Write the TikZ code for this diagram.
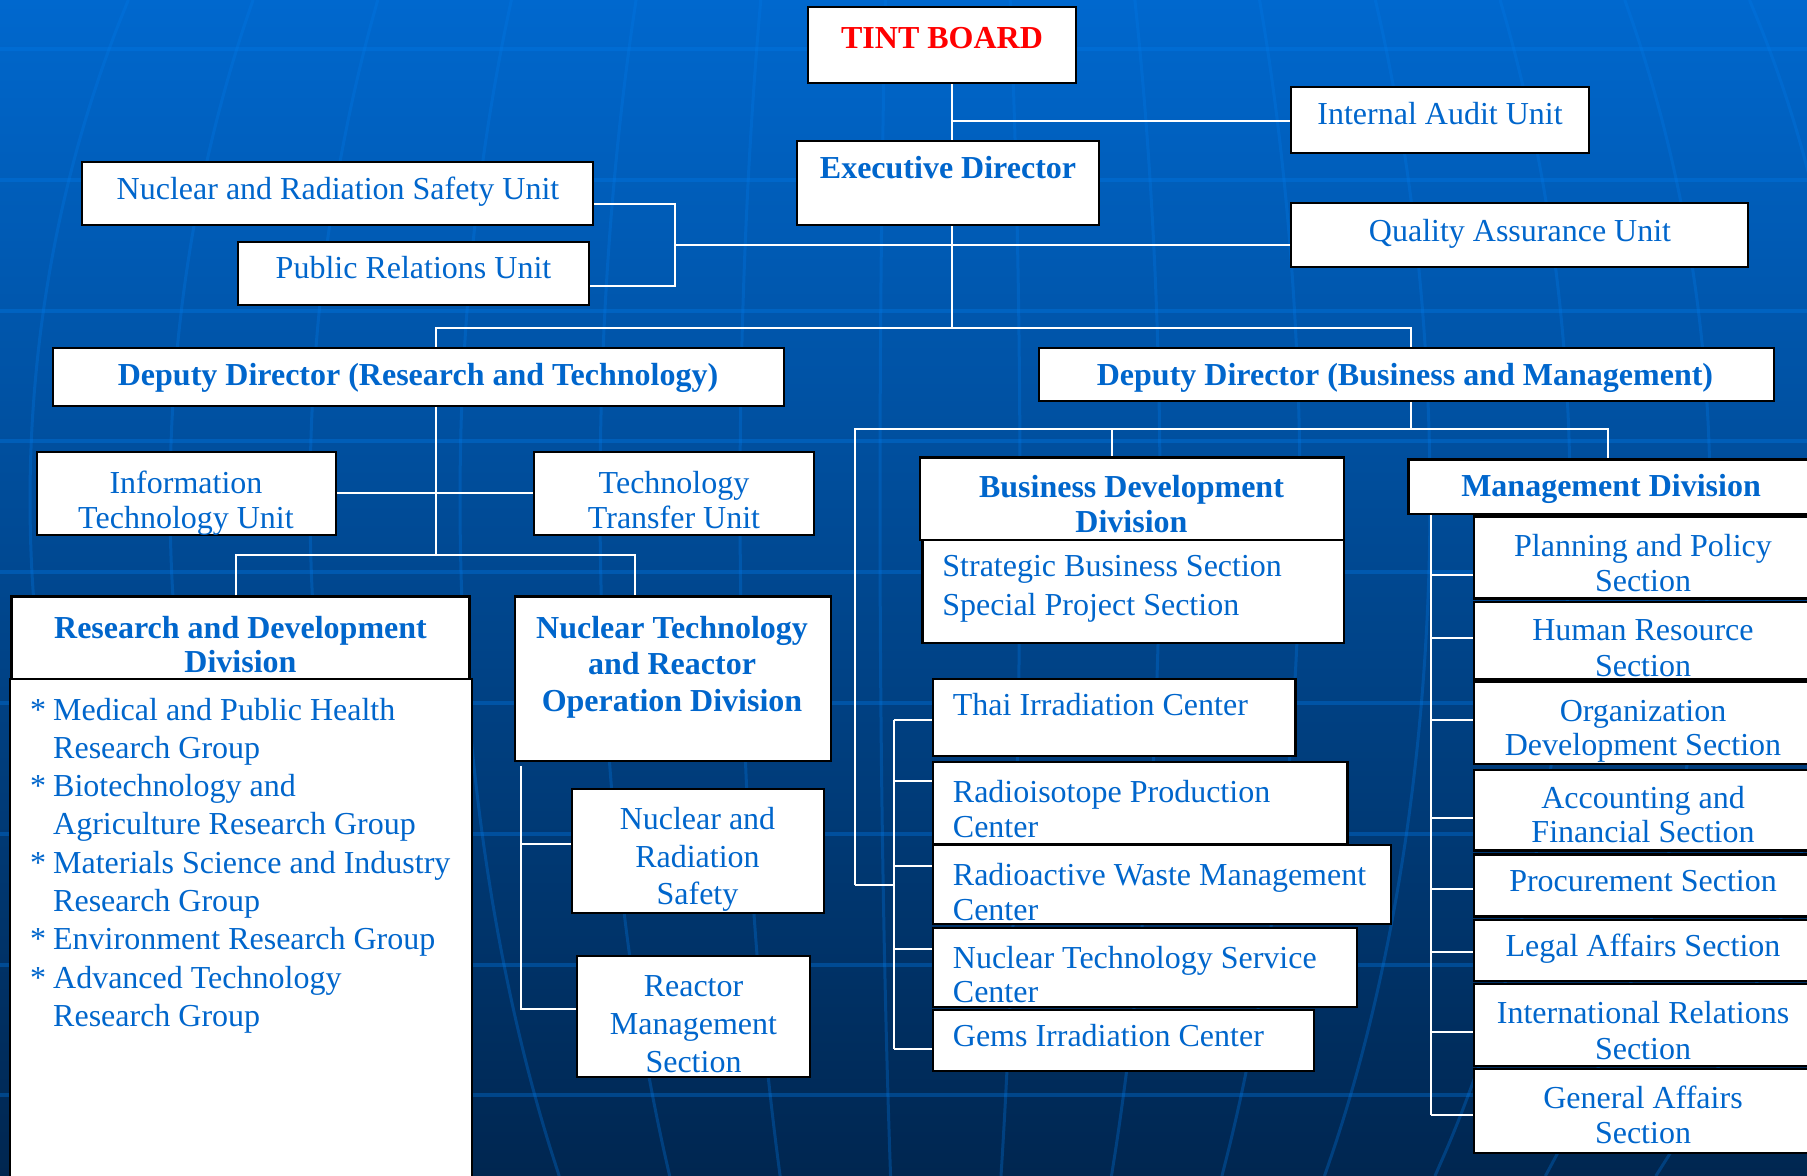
\documentclass[tikz,border=0pt]{standalone}
\usepackage{fontspec}
\setmainfont{Liberation Serif}
\usetikzlibrary{fit}
\definecolor{tblue}{RGB}{0,102,204}
\definecolor{tred}{RGB}{255,0,0}
\definecolor{bgtop}{RGB}{0,104,206}
\definecolor{bgmid}{RGB}{0,74,150}
\definecolor{bgbot}{RGB}{0,38,80}
\definecolor{gridc}{RGB}{0,122,232}
\newcommand\bx[3]{\node[box, fit={#2 #3}] (#1) {};}
\newcommand\ctr[1]{\parbox[t]{300pt}{\centering #1}}
\newcommand\lft[1]{\parbox[t]{300pt}{\raggedright #1}}
\newcommand\itmone[1]{\noindent\makebox[11.5pt][l]{*}#1\par}
\newcommand\itm[2]{\itmone{#1}\noindent\hspace*{11.5pt}#2\par}
\tikzset{
  box/.style={draw=black, fill=white, line width=1.1pt, inner sep=0pt, rectangle},
  conn/.style={draw=white, line width=1pt},
  tx/.style={anchor=base, inner sep=0pt, text=tblue, font=\fontsize{16}{17.5}\selectfont},
  tl/.style={tx, anchor=base west},
  ls/.style={font=\fontsize{16}{#1}\selectfont},
  bls/.style={font=\fontsize{16}{#1}\selectfont\bfseries},
  gridline/.style={draw=gridc, opacity=0.35, line width=2pt},
  meridian/.style={draw=gridc, opacity=0.3, line width=1.5pt},
}
\begin{document}
\begin{tikzpicture}[x=0.5pt, y=-0.5pt]
\useasboundingbox (0,0) rectangle (1807,1176);
% background
\shade[top color=bgtop, middle color=bgmid, bottom color=bgbot] (0,0) rectangle (1807,1176);
\foreach \k in {0,...,8} {
  \draw[gridline] (0,{49+130.8*\k}) -- (1807,{49+130.8*\k});
}
\foreach \a in {-900,-760,-620,-470,-330,-190,-50,90,230,370,500,640,780,920} {
  \draw[meridian] plot[domain=0:1176, samples=40, smooth] ({930+\a*sqrt(1-((\x-500)/1100)^2)}, \x);
}
% top
\bx{tint}{(808,7)}{(1076,83)}
\node[tx, font=\fontsize{16}{17.5}\selectfont\bfseries, text=tred] at (942,49) {TINT BOARD};
\bx{exec}{(797,141)}{(1099,225)}
\node[tx, bls=17.5] at (948,179) {Executive Director};
\bx{iau}{(1291,87)}{(1589,153)}
\node[tx] at (1440,125) {Internal Audit Unit};
\bx{qau}{(1291,203)}{(1748,267)}
\node[tx] at (1520,242) {Quality Assurance Unit};
\bx{nrsu}{(82,162)}{(593,225)}
\node[tx] at (338,200) {Nuclear and Radiation Safety Unit};
\bx{pru}{(238,242)}{(589,305)}
\node[tx] at (413.5,279) {Public Relations Unit};
% deputies
\bx{ddrt}{(53,348)}{(784,406)}
\node[tx, bls=17.5] at (418,385.7) {Deputy Director (Research and Technology)};
\bx{ddbm}{(1039,348)}{(1774,401)}
\node[tx, bls=17.5] at (1405,385.7) {Deputy Director (Business and Management)};
% R&T side
\bx{itu}{(37,452)}{(336,535)}
\node[tx, ls=17.5] at (186,493.3) {\ctr{Information\\Technology Unit}};
\bx{ttu}{(534,452)}{(814,535)}
\node[tx, ls=17.5] at (674,493.3) {\ctr{Technology\\Transfer Unit}};
\bx{rdh}{(11.5,596.5)}{(469.5,679)}
\node[tx, bls=17] at (240.5,638) {\ctr{Research and Development\\Division}};
\bx{rdb}{(10,679)}{(472,1190)}
\node[tl, ls=19.15] at (29.8,720) {\parbox[t]{240pt}{\raggedright
\itm{Medical and Public Health}{Research Group}
\itm{Biotechnology and}{Agriculture Research Group}
\itm{Materials Science and Industry}{Research Group}
\itmone{Environment Research Group}
\itm{Advanced Technology}{Research Group}}};
\bx{ntro}{(515,596.5)}{(831,761)}
\node[tx, bls=18.45] at (672,638) {\ctr{Nuclear Technology\\and Reactor\\Operation Division}};
\bx{nrs}{(572,789)}{(824,913)}
\node[tx, ls=18.6] at (697.5,829.8) {\ctr{Nuclear and\\Radiation\\Safety}};
\bx{rms}{(577,956)}{(810,1077)}
\node[tx, ls=19] at (693.5,996) {\ctr{Reactor\\Management\\Section}};
% business side
\bx{bdd}{(920,457.5)}{(1344,540)}
\node[tx, bls=17.5] at (1131.5,497) {\ctr{Business Development\\Division}};
\bx{sbs}{(922.5,540)}{(1344,643)}
\node[tl, ls=19.3] at (942,576.7) {\lft{Strategic Business Section\\Special Project Section}};
\bx{thai}{(933,679)}{(1295.5,756)}
\node[tl] at (952.5,715) {Thai Irradiation Center};
\bx{rpc}{(933,762)}{(1347.5,844)}
\node[tl, ls=17.35] at (952.5,802.3) {\lft{Radioisotope Production\\Center}};
\bx{rwmc}{(933,845)}{(1391,924)}
\node[tl, ls=17.35] at (952.5,885.3) {\lft{Radioactive Waste Management\\Center}};
\bx{ntsc}{(933,928)}{(1357,1007)}
\node[tl, ls=17.2] at (952.5,968.2) {\lft{Nuclear Technology Service\\Center}};
\bx{gems}{(933,1010)}{(1314,1071)}
\node[tl] at (952.5,1046.8) {Gems Irradiation Center};
% management
\bx{md}{(1408.5,459.5)}{(1815,514)}
\node[tx, bls=17.5] at (1611,496.7) {Management Division};
\bx{pps}{(1474,516.5)}{(1815,598.5)}
\node[tx, ls=17.5] at (1643,556.7) {\ctr{Planning and Policy\\Section}};
\bx{hrs}{(1474,602)}{(1815,679.5)}
\node[tx, ls=18] at (1643,640.7) {\ctr{Human Resource\\Section}};
\bx{ods}{(1474,682)}{(1815,764)}
\node[tx, ls=17] at (1643,721) {\ctr{Organization\\Development Section}};
\bx{afs}{(1474,770)}{(1815,850.5)}
\node[tx, ls=17.4] at (1643,808) {\ctr{Accounting and\\Financial Section}};
\bx{prs}{(1474,854.5)}{(1815,916.5)}
\node[tx] at (1643,891.3) {Procurement Section};
\bx{las}{(1474,920)}{(1815,981)}
\node[tx] at (1643,956.3) {Legal Affairs Section};
\bx{irs}{(1474,984)}{(1815,1066)}
\node[tx, ls=18.3] at (1643,1023) {\ctr{International Relations\\Section}};
\bx{gas}{(1474,1069)}{(1815,1153)}
\node[tx, ls=17.8] at (1643,1108) {\ctr{General Affairs\\Section}};
% connector points
\coordinate (ja) at (952,121);
\coordinate (jb) at (952,245);
\coordinate (jc) at (952,328);
\coordinate (jd) at (675,245);
\coordinate (jd1) at (675,204);
\coordinate (jd2) at (675,286);
\coordinate (je) at (436,328);
\coordinate (jf) at (1411,328);
\coordinate (jg) at (436,493);
\coordinate (jh) at (436,555);
\coordinate (ji) at (236,555);
\coordinate (jj) at (635,555);
\coordinate (jk) at (521,766);
\coordinate (jl) at (521,844);
\coordinate (jm) at (521,1009);
\coordinate (jn) at (1411,429);
\coordinate (jo) at (855,429);
\coordinate (jp) at (1608,429);
\coordinate (jq) at (1112,429);
\coordinate (jr) at (855,885);
\coordinate (js) at (894,885);
\coordinate (jt) at (894,720);
\coordinate (ju) at (894,1049);
\coordinate (jv) at (1431,1115);
% connectors
\draw[conn] (tint.south -| ja) -- (exec.north -| ja);
\draw[conn] (ja) -- (iau.west |- ja);
\draw[conn] (exec.south -| jb) -- (jc);
\draw[conn] (nrsu.east |- jd1) -- (jd1) -- (jd2) -- (pru.east |- jd2);
\draw[conn] (jd) -- (qau.west |- jd);
\draw[conn] (ddrt.north -| je) -- (je) -- (jf) -- (ddbm.north -| jf);
\draw[conn] (ddrt.south -| jh) -- (jh);
\draw[conn] (itu.east |- jg) -- (ttu.west |- jg);
\draw[conn] (rdh.north -| ji) -- (ji) -- (jj) -- (ntro.north -| jj);
\draw[conn] (jk) -- (jm) -- (rms.west |- jm);
\draw[conn] (jl) -- (nrs.west |- jl);
\draw[conn] (ddbm.south -| jn) -- (jn);
\draw[conn] (jr) -- (jo) -- (jp) -- (md.north -| jp);
\draw[conn] (jq) -- (bdd.north -| jq);
\draw[conn] (jr) -- (js);
\draw[conn] (jt) -- (ju);
\draw[conn] (jt) -- (thai.west |- jt);
\foreach \n/\yy in {rpc/781, rwmc/865.5, ntsc/948.5, gems/1049} {
  \coordinate (c\n) at (894,\yy);
  \draw[conn] (c\n) -- (\n.west |- c\n);
}
\draw[conn] (md.south -| jv) -- (jv);
\foreach \n/\yy in {pps/575.3, hrs/637.7, ods/720, afs/818.2, prs/888.7, las/952, irs/1031.7, gas/1114.7} {
  \coordinate (m\n) at (1431,\yy);
  \draw[conn] (m\n) -- (\n.west |- m\n);
}
\end{tikzpicture}
\end{document}
